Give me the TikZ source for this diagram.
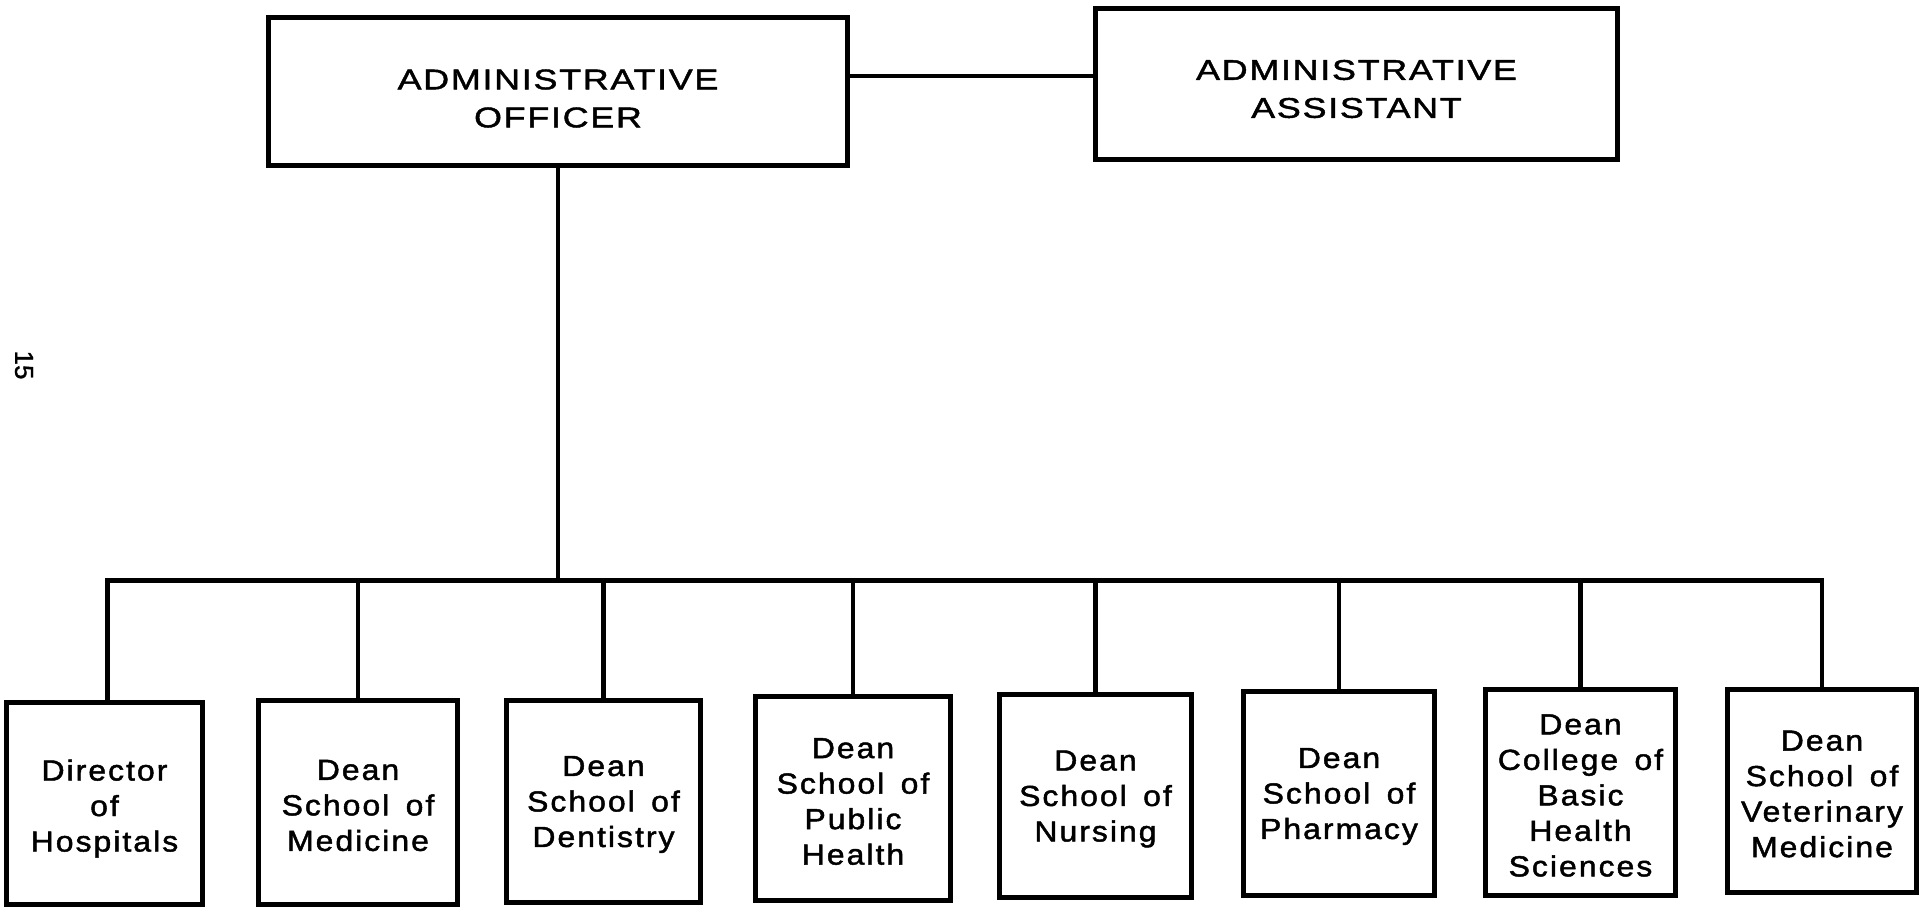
\documentclass[tikz,border=0pt]{standalone}
\usepackage{fontspec}
\setmainfont{Liberation Sans}
\newfontfamily\headfont[FakeStretch=1.26, LetterSpace=6, FakeBold=1.5]{Liberation Sans}
\newfontfamily\unitfont[FakeStretch=1.1, LetterSpace=7, WordSpace=1.5, FakeBold=1.6]{Liberation Sans}
\newfontfamily\folfont[FakeBold=1.2]{Liberation Sans}
\usetikzlibrary{calc}
\begin{document}
\begin{tikzpicture}[x=1pt,y=-1pt,
  box/.style={draw, line width=5.5pt, rectangle, inner sep=0pt},
  headtext/.style={align=center, inner sep=0pt, font=\headfont\fontsize{28.5}{38}\selectfont},
  unittext/.style={align=center, inner sep=0pt, font=\unitfont\fontsize{29}{35.5}\selectfont},
  link/.style={line width=4.5pt}]
\useasboundingbox (0,0) rectangle (1923,914);

% folio in the margin
\node (pg) [rotate=-90, font=\folfont\fontsize{26}{26}\selectfont] at (24,365) {15};

% top level
\node (off) [box, minimum width=579pt, minimum height=148pt] at (558,91.5) {};
\node (offt) [headtext] at ($(off.center)+(0,7)$) {ADMINISTRATIVE\\OFFICER};
\node (asst) [box, minimum width=522pt, minimum height=151pt] at (1356.5,84) {};
\node (asstt) [headtext] at ($(asst.center)+(0,5)$) {ADMINISTRATIVE\\ASSISTANT};

% reporting units
\node (b1) [box, minimum width=196pt, minimum height=202pt] at (104.5,803.5) {};
\node (b1t) [unittext] at ($(b1.center)+(0,5)$) {Director\\of\\Hospitals};
\node (b2) [box, minimum width=199pt, minimum height=204pt] at (358,802.5) {};
\node (b2t) [unittext] at ($(b2.center)+(0,3)$) {Dean\\School of\\Medicine};
\node (b3) [box, minimum width=194pt, minimum height=202pt] at (603.5,801.5) {};
\node (b3t) [unittext] at ($(b3.center)+(0,3)$) {Dean\\School of\\Dentistry};
\node (b4) [box, minimum width=195pt, minimum height=204pt] at (853,798.5) {};
\node (b4t) [unittext] at ($(b4.center)+(0,3)$) {Dean\\School of\\Public\\Health};
\node (b5) [box, minimum width=192pt, minimum height=203pt] at (1095.5,796) {};
\node (b5t) [unittext] at ($(b5.center)+(0,3)$) {Dean\\School of\\Nursing};
\node (b6) [box, minimum width=191pt, minimum height=204pt] at (1339,793.5) {};
\node (b6t) [unittext] at ($(b6.center)+(0,3)$) {Dean\\School of\\Pharmacy};
\node (b7) [box, minimum width=190pt, minimum height=206pt] at (1580.5,792.5) {};
\node (b7t) [unittext] at ($(b7.center)+(0,3)$) {Dean\\College of\\Basic\\Health\\Sciences};
\node (b8) [box, minimum width=189pt, minimum height=203pt] at (1822,791) {};
\node (b8t) [unittext] at ($(b8.center)+(0,3)$) {Dean\\School of\\Veterinary\\Medicine};

% staff link
\draw[link] ([yshift=15.5pt]off.east) -- ([yshift=15.5pt]off.east -| asst.west);

% trunk and bus
\coordinate (bus) at ($(off.south)+(0,412)$);
\draw[link] (off.south) -- (bus);
\draw[link, line cap=rect] ([xshift=3pt]b1.north |- bus) -- (b8.north |- bus);
\foreach \b in {b2,b3,b4,b5,b6,b7,b8}
  \draw[link] (\b.north |- bus) -- (\b.north);
\draw[link] ([xshift=3pt]b1.north |- bus) -- ([xshift=3pt]b1.north);
\end{tikzpicture}
\end{document}
